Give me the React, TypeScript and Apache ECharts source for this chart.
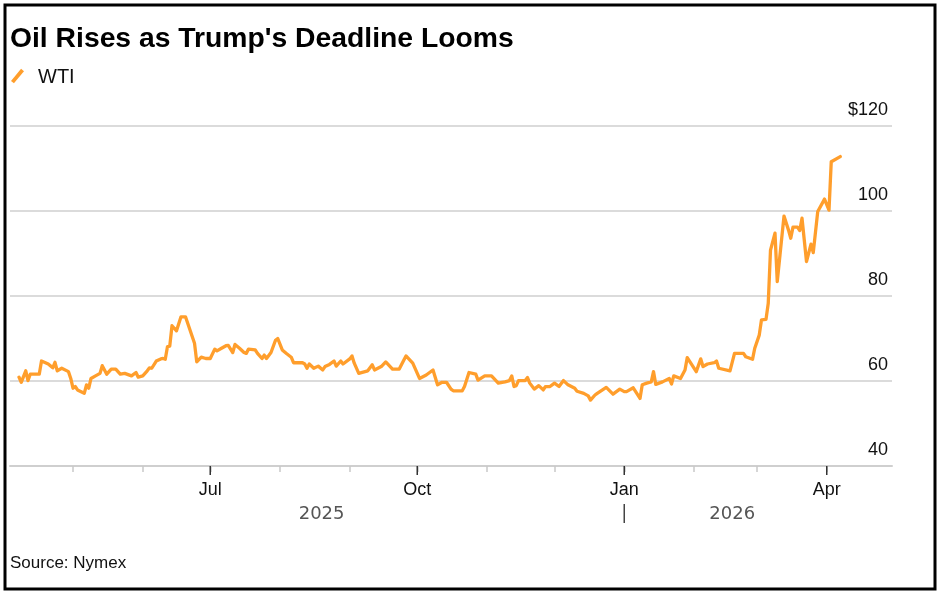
import React, { useEffect, useRef } from 'react';
import * as echarts from 'echarts';

const dates = [
  '2025-04-07','2025-04-08','2025-04-10','2025-04-11','2025-04-12','2025-04-16','2025-04-17','2025-04-20','2025-04-22','2025-04-23',
  '2025-04-24','2025-04-26','2025-04-29','2025-04-30','2025-05-01','2025-05-02','2025-05-03','2025-05-06','2025-05-07','2025-05-08',
  '2025-05-09','2025-05-11','2025-05-13','2025-05-14','2025-05-16','2025-05-18','2025-05-20','2025-05-22','2025-05-24','2025-05-27',
  '2025-05-29','2025-05-30','2025-06-01','2025-06-03','2025-06-04','2025-06-05','2025-06-07','2025-06-09','2025-06-10','2025-06-11',
  '2025-06-12','2025-06-13','2025-06-14','2025-06-16','2025-06-18','2025-06-20','2025-06-22','2025-06-24','2025-06-25','2025-06-27',
  '2025-06-29','2025-07-01','2025-07-03','2025-07-04','2025-07-06','2025-07-08','2025-07-09','2025-07-11','2025-07-12','2025-07-14',
  '2025-07-16','2025-07-17','2025-07-18','2025-07-21','2025-07-22','2025-07-24','2025-07-25','2025-07-26','2025-07-28','2025-07-30',
  '2025-07-31','2025-08-02','2025-08-04','2025-08-06','2025-08-07','2025-08-11','2025-08-12','2025-08-13','2025-08-14','2025-08-16',
  '2025-08-18','2025-08-20','2025-08-21','2025-08-23','2025-08-25','2025-08-26','2025-08-28','2025-08-29','2025-09-01','2025-09-02',
  '2025-09-03','2025-09-05','2025-09-09','2025-09-11','2025-09-12','2025-09-15','2025-09-17','2025-09-20','2025-09-23','2025-09-25',
  '2025-09-26','2025-09-29','2025-10-02','2025-10-05','2025-10-08','2025-10-10','2025-10-12','2025-10-14','2025-10-16','2025-10-17',
  '2025-10-21','2025-10-22','2025-10-24','2025-10-27','2025-10-28','2025-10-31','2025-11-03','2025-11-06','2025-11-09','2025-11-11',
  '2025-11-12','2025-11-13','2025-11-14','2025-11-15','2025-11-18','2025-11-19','2025-11-20','2025-11-22','2025-11-24','2025-11-26',
  '2025-11-27','2025-11-29','2025-12-01','2025-12-03','2025-12-05','2025-12-07','2025-12-10','2025-12-11','2025-12-14','2025-12-16',
  '2025-12-17','2025-12-19','2025-12-20','2025-12-24','2025-12-27','2025-12-30','2026-01-01','2026-01-02','2026-01-05','2026-01-08',
  '2026-01-09','2026-01-11','2026-01-13','2026-01-14','2026-01-15','2026-01-18','2026-01-21','2026-01-22','2026-01-23','2026-01-26',
  '2026-01-28','2026-01-29','2026-02-02','2026-02-04','2026-02-05','2026-02-07','2026-02-10','2026-02-11','2026-02-12','2026-02-17',
  '2026-02-19','2026-02-23','2026-02-24','2026-02-27','2026-02-28','2026-03-02','2026-03-03','2026-03-05','2026-03-06','2026-03-07',
  '2026-03-09','2026-03-10','2026-03-13','2026-03-15','2026-03-16','2026-03-17','2026-03-19','2026-03-20','2026-03-21','2026-03-23',
  '2026-03-25','2026-03-26','2026-03-28','2026-03-31','2026-04-02','2026-04-03','2026-04-07',
];

const wti = [
  60.9, 59.7, 62.4, 60.1, 61.6, 61.6, 64.7, 64.0, 63.1, 64.4,
  62.4, 63.0, 62.2, 60.6, 58.3, 58.7, 57.9, 57.1, 59.1, 58.3,
  60.6, 61.2, 61.8, 63.6, 61.6, 62.8, 62.8, 61.6, 61.8, 61.2,
  62.0, 60.9, 61.2, 62.4, 63.1, 63.0, 64.7, 65.2, 65.3, 65.1,
  68.1, 68.2, 73.0, 71.8, 75.1, 75.1, 72.0, 68.9, 64.5, 65.6,
  65.3, 65.3, 67.5, 67.1, 67.7, 68.3, 68.4, 66.7, 68.6, 67.7,
  66.7, 66.5, 67.5, 67.3, 66.5, 65.3, 66.1, 65.3, 66.7, 69.6,
  70.0, 67.3, 66.4, 65.6, 64.3, 64.3, 64.0, 63.0, 64.0, 63.0,
  63.5, 62.6, 63.4, 63.9, 64.7, 63.5, 64.7, 64.0, 65.2, 65.9,
  64.2, 61.8, 62.4, 63.8, 62.6, 63.4, 64.5, 62.8, 62.8, 64.9,
  65.9, 64.2, 60.6, 61.4, 62.6, 59.1, 59.7, 59.7, 58.1, 57.7,
  57.7, 58.7, 62.0, 61.6, 60.2, 61.2, 61.2, 59.5, 59.8, 60.1,
  61.2, 58.7, 58.9, 60.1, 60.1, 60.8, 59.5, 58.1, 58.9, 57.9,
  58.7, 58.7, 59.5, 58.7, 60.1, 59.1, 58.3, 57.6, 57.1, 56.5,
  55.5, 56.7, 57.1, 58.5, 56.9, 58.1, 57.5, 57.5, 58.4, 55.9,
  59.1, 59.5, 59.8, 62.2, 59.2, 59.8, 60.6, 59.3, 61.2, 60.6,
  62.6, 65.5, 62.2, 65.2, 63.4, 64.0, 64.3, 64.7, 63.0, 62.4,
  66.5, 66.5, 65.7, 65.1, 67.7, 70.8, 74.4, 74.5, 78.3, 90.8,
  94.8, 83.4, 98.8, 95.5, 93.6, 96.2, 96.2, 95.4, 98.3, 88.1,
  92.2, 90.2, 99.9, 102.8, 100.2, 111.6, 112.8,
];

const seriesName = 'WTI';
const axisStart = '2025-04-03';
const axisEnd = '2026-04-30';
const quarterTicks = ['2025-07-01', '2025-10-01', '2026-01-01', '2026-04-01'];
const yearBreak = '2026-01-01';
const yearNames = ['2025', '2026'];
const monthNames = ['Jan', 'Feb', 'Mar', 'Apr', 'May', 'Jun', 'Jul', 'Aug', 'Sep', 'Oct', 'Nov', 'Dec'];
const labelledMonths = [0, 3, 6, 9];
const yMin = 40;
const yMax = 120;
const yStep = 20;

const FONT = '"Liberation Sans", Arial, sans-serif';
const ORANGE = '#FF9E2C';

export default function App() {
  const ref = useRef<HTMLDivElement>(null);

  useEffect(() => {
    if (!ref.current) return;
    const chart = echarts.init(ref.current, undefined, { renderer: 'svg' });

    const breakTs = Date.parse(yearBreak + 'T00:00:00');
    const firstTs = Date.parse(dates[0] + 'T00:00:00');
    const lastTs = Date.parse(dates[dates.length - 1] + 'T00:00:00');
    const yearCentres = [(firstTs + breakTs) / 2, (breakTs + lastTs) / 2];

    chart.setOption({
      animation: false,
      title: {
        text: "Oil Rises as Trump's Deadline Looms",
        left: 10,
        top: 23,
        padding: 0,
        textStyle: { fontFamily: FONT, fontWeight: 'bold', fontSize: 28.3, color: '#000' },
      },
      legend: {
        left: 11,
        top: 66,
        padding: 0,
        data: [seriesName],
        icon: 'path://M0,11.6 L9.6,0 L12.4,2.3 L2.8,13.9 Z',
        itemWidth: 13,
        itemHeight: 15,
        selectedMode: false,
        itemStyle: { color: ORANGE, borderWidth: 0 },
        textStyle: { fontFamily: FONT, fontSize: 20, color: '#111', padding: [0, 0, 0, 9] },
      },
      grid: { left: 10, right: 46, top: 126, bottom: 125, containLabel: false },
      xAxis: {
        type: 'time',
        min: axisStart,
        max: axisEnd,
        splitNumber: 14,
        minInterval: 28 * 86400000,
        maxInterval: 31 * 86400000,
        axisLine: { show: true, lineStyle: { color: '#cfcfcf', width: 2 } },
        axisTick: { show: true, length: 6, lineStyle: { color: '#c8c8c8', width: 1.5 } },
        splitLine: { show: false },
        axisLabel: {
          show: true,
          margin: 14,
          showMinLabel: false,
          showMaxLabel: false,
          hideOverlap: false,
          fontFamily: FONT,
          fontSize: 18,
          color: '#111',
          formatter: (value: number) => {
            const d = new Date(value);
            if (d.getDate() !== 1) return '';
            return labelledMonths.includes(d.getMonth()) ? monthNames[d.getMonth()] : '';
          },
        },
      },
      yAxis: {
        type: 'value',
        position: 'right',
        min: yMin,
        max: yMax,
        interval: yStep,
        axisLine: { show: false },
        axisTick: { show: false },
        splitLine: { show: true, lineStyle: { color: '#cfcfcf', width: 1.5 } },
        axisLabel: {
          inside: true,
          margin: 4,
          align: 'right',
          verticalAlign: 'bottom',
          padding: [0, 0, 8, 0],
          fontFamily: FONT,
          fontSize: 18,
          color: '#111',
          formatter: (v: number) => (v === yMax ? '$' + v : String(v)),
        },
      },
      series: [
        {
          name: seriesName,
          type: 'line',
          data: dates.map((d, i) => [d, wti[i]]),
          showSymbol: false,
          symbol: 'none',
          color: ORANGE,
          lineStyle: { width: 3.3, color: ORANGE, join: 'round', cap: 'round' },
          z: 5,
        },
        {
          name: 'quarterTicks',
          type: 'custom',
          clip: false,
          silent: true,
          data: quarterTicks.map((d) => [d, yMin]),
          encode: { x: 0, y: 1 },
          renderItem: (params: any, api: any) => {
            const p = api.coord([api.value(0), api.value(1)]);
            return {
              type: 'line',
              shape: { x1: p[0], y1: p[1], x2: p[0], y2: p[1] + 9 },
              style: { stroke: '#333', lineWidth: 1.5 },
            };
          },
        },
        {
          name: 'yearBreak',
          type: 'custom',
          clip: false,
          silent: true,
          data: [[yearBreak, yMin]],
          encode: { x: 0, y: 1 },
          renderItem: (params: any, api: any) => {
            const p = api.coord([api.value(0), api.value(1)]);
            return {
              type: 'line',
              shape: { x1: p[0], y1: p[1] + 38, x2: p[0], y2: p[1] + 57 },
              style: { stroke: '#444', lineWidth: 1.5 },
            };
          },
        },
        {
          name: 'years',
          type: 'custom',
          clip: false,
          silent: true,
          data: yearCentres.map((t) => [t, yMin]),
          encode: { x: 0, y: 1 },
          renderItem: (params: any, api: any) => {
            const p = api.coord([api.value(0), api.value(1)]);
            return {
              type: 'text',
              x: p[0],
              y: p[1] + 46,
              style: {
                text: yearNames[params.dataIndex],
                align: 'center',
                verticalAlign: 'middle',
                fill: '#555',
                fontSize: 18,
                fontFamily: '"DejaVu Sans", sans-serif',
              },
            };
          },
        },
      ],
      graphic: [
        {
          type: 'text',
          left: 10,
          top: 554,
          style: { text: 'Source: Nymex', fontSize: 17, fontFamily: FONT, fill: '#111' },
        },
        {
          type: 'rect',
          shape: { x: 5, y: 5, width: 930, height: 584 },
          style: { fill: 'none', stroke: '#000', lineWidth: 3 },
          silent: true,
        },
      ],
    });

    return () => chart.dispose();
  }, []);

  return <div ref={ref} style={{ position: 'fixed', left: 0, top: 0, width: 938, height: 591 }} />;
}
